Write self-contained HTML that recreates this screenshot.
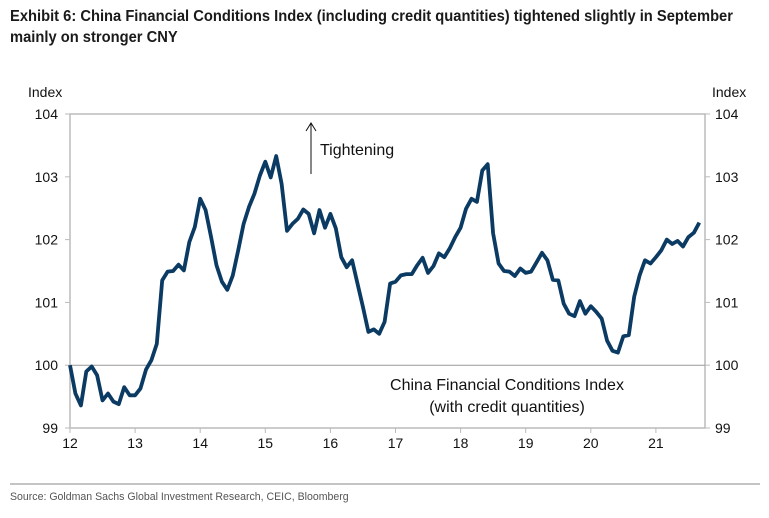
<!DOCTYPE html>
<html><head><meta charset="utf-8"><style>
body{margin:0;background:#fff;width:769px;height:518px;overflow:hidden;font-family:"Liberation Sans",sans-serif}
.title{position:absolute;left:10px;top:6px;font-family:"Liberation Sans Narrow","Liberation Sans",sans-serif;font-weight:bold;font-size:16px;line-height:21px;color:#1a1a1a;white-space:nowrap;transform:scaleX(0.92);transform-origin:0 0}
.src{position:absolute;left:10px;top:491px;font-family:"Liberation Sans Narrow","Liberation Sans",sans-serif;font-size:11px;color:#555;white-space:nowrap;transform:scaleX(0.96);transform-origin:0 0}
</style></head><body>
<div class="title">Exhibit 6: China Financial Conditions Index (including credit quantities) tightened slightly in September<br>mainly on stronger CNY</div>
<svg id="chart" width="769" height="518" style="position:absolute;left:0;top:0"></svg>
<div class="src">Source: Goldman Sachs Global Investment Research, CEIC, Bloomberg</div>
<script>
const startYear=2012;
const values=[100.0,99.55,99.36,99.9,99.98,99.84,99.44,99.55,99.42,99.38,99.65,99.52,
99.52,99.63,99.93,100.08,100.34,101.35,101.49,101.5,101.6,101.51,101.96,102.2,
102.65,102.47,102.04,101.59,101.33,101.2,101.43,101.83,102.25,102.52,102.73,103.02,
103.24,102.99,103.33,102.89,102.14,102.25,102.33,102.48,102.41,102.1,102.47,102.19,
102.41,102.18,101.72,101.56,101.67,101.3,100.93,100.53,100.57,100.5,100.69,101.3,
101.33,101.43,101.45,101.45,101.59,101.71,101.47,101.58,101.78,101.72,101.86,102.04,
102.19,102.49,102.65,102.6,103.1,103.2,102.1,101.62,101.5,101.49,101.42,101.54,
101.47,101.49,101.64,101.79,101.67,101.36,101.35,100.98,100.82,100.78,101.02,100.82,
100.94,100.85,100.74,100.39,100.23,100.2,100.46,100.48,101.09,101.43,101.67,101.62,
101.72,101.83,102.0,101.93,101.98,101.89,102.04,102.11,102.27];
const xTicks=["12","13","14","15","16","17","18","19","20","21"];
const yTicks=[99,100,101,102,103,104];
const L=70,R=705,T=114,B=428;
const x=t=>L+(t-2012)*65.1;
const y=v=>B-(v-99)*(B-T)/5;
const svg=document.getElementById('chart');const NS='http://www.w3.org/2000/svg';
function mk(tag,a,txt){const e=document.createElementNS(NS,tag);for(const k in a)e.setAttribute(k,a[k]);if(txt!==undefined)e.textContent=txt;svg.appendChild(e);return e;}
let e;
e=mk('rect',{x:L,y:T,width:R-L,height:B-T,fill:'none',stroke:'#bbb','stroke-width':1.5});


e=mk('line',{x1:L,x2:R,y1:y(100),y2:y(100),stroke:'#999','stroke-width':1});


yTicks.forEach(v=>{
 mk('line',{x1:L-5,x2:L,y1:y(v),y2:y(v),stroke:'#bbb'});
 mk('line',{x1:R,x2:R+5,y1:y(v),y2:y(v),stroke:'#bbb'});
 e=mk('text',{x:L-12,y:y(v)+5,'text-anchor':'end','font-size':14,fill:'#111'},String(v));
 
 
 e=mk('text',{x:R+10,y:y(v)+5,'font-size':14,fill:'#111'},String(v));
 
 
});
xTicks.forEach((s,i)=>{
 mk('line',{x1:x(2012+i),x2:x(2012+i),y1:B,y2:B+5,stroke:'#bbb'});
 e=mk('text',{x:x(2012+i),y:B+20,'text-anchor':'middle','font-size':14,fill:'#111'},s);
 
 
});
e=mk('text',{x:28,y:97,'font-size':14,fill:'#111'},'Index');


e=mk('text',{x:712,y:97,'font-size':14,fill:'#111'},'Index');


const d=values.map((v,i)=>(i?'L':'M')+x(startYear+i/12).toFixed(1)+','+y(v).toFixed(1)).join(' ');
e=mk('path',{d:d,fill:'none',stroke:'#0b3a63','stroke-width':3.8,'stroke-linejoin':'round'});


e=mk('path',{d:'M311,174 L311,123 M306,131 L311,123 L316,131',fill:'none',stroke:'#111','stroke-width':1});


e=mk('text',{x:320,y:155,'font-size':16,fill:'#111'},'Tightening');


e=mk('text',{x:507,y:390,'text-anchor':'middle','font-size':16,fill:'#111'},'China Financial Conditions Index');


e=mk('text',{x:507,y:412,'text-anchor':'middle','font-size':16,fill:'#111'},'(with credit quantities)');


e=mk('line',{x1:10,x2:760,y1:484,y2:484,stroke:'#888','stroke-width':1});


</script>
</body></html>
